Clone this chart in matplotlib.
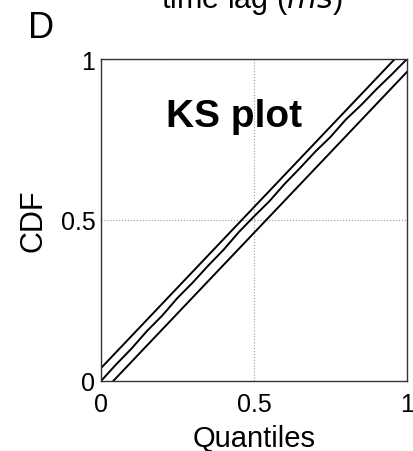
import matplotlib.pyplot as plt
import numpy as np

plt.rcParams['font.family'] = ['Liberation Sans', 'DejaVu Sans']

# model quantiles and empirical CDF of the rescaled times
quantiles = [0.0, 0.05, 0.10, 0.15, 0.20, 0.25, 0.30, 0.35, 0.40, 0.45, 0.50,
             0.55, 0.60, 0.65, 0.70, 0.75, 0.80, 0.85, 0.90, 0.95, 1.0]
ecdf = [0.0, 0.052, 0.101, 0.155, 0.203, 0.258, 0.306, 0.358, 0.407, 0.462, 0.511,
        0.558, 0.612, 0.661, 0.712, 0.758, 0.812, 0.857, 0.906, 0.952, 1.0]
# 95% confidence band half-width
band = 0.04

q = np.array(quantiles)

fig = plt.figure(figsize=(4.13, 4.52), dpi=100)
ax = fig.add_axes([101 / 413, 70 / 452, 306 / 413, 322 / 452])

ax.plot(q, q + band, color='black', lw=1.4)
ax.plot(quantiles, ecdf, color='black', lw=1.4)
ax.plot(q, q - band, color='black', lw=1.4)

ax.set_xlim(0, 1)
ax.set_ylim(0, 1)
ax.set_xticks([0, 0.5, 1])
ax.set_yticks([0, 0.5, 1])
ax.set_xticklabels(['0', '0.5', '1'])
ax.set_yticklabels(['0', '0.5', '1'])
ax.tick_params(length=0, labelsize=18)
ax.tick_params(axis='x', pad=8)
ax.tick_params(axis='y', pad=4)
ax.grid(True, color='#999999', linestyle=':', linewidth=0.8)
for s in ax.spines.values():
    s.set_linewidth(1.0)
    s.set_color('#333333')

ax.set_xlabel('Quantiles', fontsize=21, labelpad=6)
ax.set_ylabel('CDF', fontsize=22, labelpad=9)

ax.text(0.435, 0.792, 'KS plot', fontsize=28, fontweight='bold',
        ha='center', va='baseline', transform=ax.transAxes)

fig.text(28 / 413, 1 - 38 / 452, 'D', fontsize=26, ha='left', va='baseline')
fig.text(252 / 413, 1 - 8 / 452, r'time lag ($\it{ms}$)', fontsize=22,
         ha='center', va='baseline')

fig.savefig('out.png', dpi=100)
